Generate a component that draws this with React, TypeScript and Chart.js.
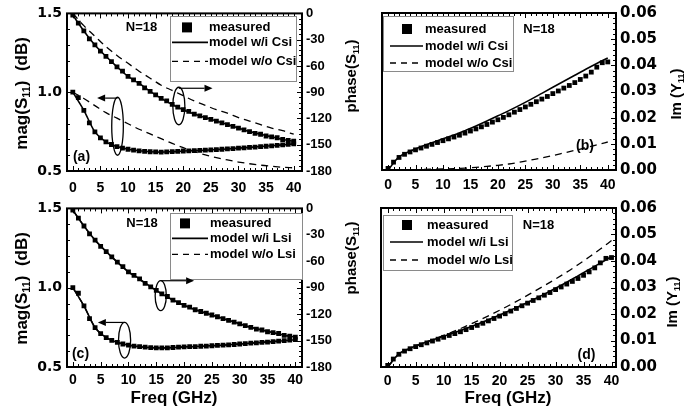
import React, { useEffect, useRef } from "react";
import { Chart, registerables } from "chart.js";

Chart.register(...registerables);

// ---------------- data ----------------
const FREQ = [0, 1, 2, 3, 4, 5, 6, 7, 8, 9, 10, 11, 12, 13, 14, 15, 16, 17, 18, 19, 20, 21, 22, 23, 24, 25, 26, 27, 28, 29, 30, 31, 32, 33, 34, 35, 36, 37, 38, 39, 40];
const FREQ_MODEL = [0, 2, 4, 6, 8, 10, 12, 14, 16, 18, 20, 22, 24, 26, 28, 30, 32, 34, 36, 38, 40];

const MAG_MEASURED = [1.000, 0.965, 0.885, 0.805, 0.748, 0.710, 0.685, 0.668, 0.655, 0.645, 0.638, 0.632, 0.628, 0.625, 0.622, 0.621, 0.620, 0.621, 0.623, 0.625, 0.627, 0.628, 0.629, 0.631, 0.632, 0.634, 0.636, 0.638, 0.640, 0.642, 0.645, 0.647, 0.650, 0.652, 0.655, 0.657, 0.660, 0.663, 0.666, 0.669, 0.672];
const PHASE_MEASURED = [-2, -11, -20, -29, -36, -43, -49, -55, -61, -66, -72, -76, -80, -85, -89, -93, -97, -100, -104, -107, -110, -112, -115, -117, -119, -121, -123, -125, -127, -129, -131, -133, -135, -137, -138, -140, -141, -142, -144, -145, -146];

const MAG_MODEL_CSI = [1.000, 0.885, 0.748, 0.685, 0.655, 0.638, 0.628, 0.622, 0.620, 0.623, 0.627, 0.629, 0.632, 0.636, 0.640, 0.645, 0.650, 0.655, 0.660, 0.666, 0.672];
const PHASE_MODEL_CSI = [-2, -20, -36, -49, -61, -72, -80, -89, -97, -104, -110, -115, -119, -123, -127, -131, -135, -138, -141, -144, -146];
const MAG_NO_CSI = [1.000, 0.960, 0.915, 0.870, 0.835, 0.800, 0.765, 0.735, 0.705, 0.675, 0.648, 0.623, 0.602, 0.585, 0.570, 0.557, 0.546, 0.537, 0.530, 0.524, 0.520];
const PHASE_NO_CSI = [0, -14, -26, -38, -48, -57, -66, -74, -82, -88, -94, -100, -105, -110, -114, -119, -123, -127, -131, -134, -138];

const MAG_MODEL_LSI = [1.000, 0.885, 0.748, 0.685, 0.655, 0.638, 0.628, 0.622, 0.620, 0.623, 0.627, 0.629, 0.632, 0.636, 0.640, 0.645, 0.650, 0.655, 0.660, 0.666, 0.672];
const PHASE_MODEL_LSI = [-2, -20, -36, -49, -61, -72, -80, -89, -97, -104, -110, -115, -119, -123, -127, -131, -135, -138, -141, -144, -146];
const MAG_NO_LSI = [1.000, 0.884, 0.749, 0.686, 0.655, 0.638, 0.628, 0.622, 0.621, 0.623, 0.627, 0.629, 0.632, 0.636, 0.640, 0.645, 0.650, 0.655, 0.661, 0.666, 0.672];
const PHASE_NO_LSI = [-2, -20, -36, -49, -61, -72, -81, -89, -97, -104, -110, -115, -119, -123, -127, -131, -135, -138, -141, -144, -146];

const IM_MEASURED = [0.0006, 0.0030, 0.0048, 0.0060, 0.0069, 0.0077, 0.0084, 0.0091, 0.0098, 0.0105, 0.0112, 0.0119, 0.0126, 0.0133, 0.0141, 0.0149, 0.0157, 0.0165, 0.0174, 0.0183, 0.0192, 0.0201, 0.0211, 0.0221, 0.0231, 0.0241, 0.0251, 0.0261, 0.0271, 0.0281, 0.0292, 0.0302, 0.0313, 0.0323, 0.0334, 0.0346, 0.0359, 0.0374, 0.0393, 0.0410, 0.0413];
const IM_MODEL_CSI = [0.0000, 0.0050, 0.0072, 0.0089, 0.0104, 0.0119, 0.0134, 0.0150, 0.0168, 0.0187, 0.0207, 0.0227, 0.0248, 0.0270, 0.0293, 0.0316, 0.0339, 0.0362, 0.0385, 0.0407, 0.0428];
const IM_NO_CSI = [0.0000, 0.0001, 0.0001, 0.0002, 0.0003, 0.0004, 0.0005, 0.0007, 0.0010, 0.0014, 0.0018, 0.0023, 0.0030, 0.0038, 0.0046, 0.0055, 0.0065, 0.0075, 0.0085, 0.0096, 0.0107];
const IM_MODEL_LSI = [0.0000, 0.0050, 0.0071, 0.0088, 0.0102, 0.0116, 0.0130, 0.0145, 0.0161, 0.0178, 0.0196, 0.0215, 0.0234, 0.0254, 0.0275, 0.0297, 0.0320, 0.0344, 0.0368, 0.0392, 0.0417];
const IM_NO_LSI = [0.0000, 0.0048, 0.0069, 0.0087, 0.0103, 0.0119, 0.0136, 0.0154, 0.0173, 0.0193, 0.0214, 0.0236, 0.0259, 0.0283, 0.0307, 0.0332, 0.0358, 0.0386, 0.0415, 0.0445, 0.0477];

const FREQ_TICKS = [0, 5, 10, 15, 20, 25, 30, 35, 40];
const MAG_TICKS = [0.5, 1.0, 1.5];
const PHASE_TICKS = [0, -30, -60, -90, -120, -150, -180];
const IM_TICKS = [0, 0.01, 0.02, 0.03, 0.04, 0.05, 0.06];

const LEGEND_CSI = ["measured", "model w/i Csi", "model w/o Csi"];
const LEGEND_LSI = ["measured", "model w/i Lsi", "model w/o Lsi"];
const N_LABEL = "N=18";
const X_TITLE = "Freq (GHz)";
type Part = [string, boolean];
const MAG_TITLE: Part[] = [["mag(S", false], ["11", true], [")  (dB)", false]];
const PHASE_TITLE: Part[] = [["phase(S", false], ["11", true], [")", false]];
const IM_TITLE: Part[] = [["Im (Y", false], ["11", true], [")", false]];

// ---------------- helpers ----------------
const SANS = '"Liberation Sans", Arial, sans-serif';
const WIDE = '"DejaVu Sans", sans-serif';

const pts = (xs: number[], ys: number[]) => xs.map((x, i) => ({ x, y: ys[i] }));

function measured(ys: number[], axis: string) {
  return {
    label: "measured", data: pts(FREQ, ys), yAxisID: axis, showLine: false,
    pointStyle: "rect", pointRadius: 3.4, pointBackgroundColor: "#000", pointBorderColor: "#000",
    pointBorderWidth: 0, borderColor: "#000", backgroundColor: "#000",
  };
}
function model(ys: number[], axis: string, dashed: boolean) {
  return {
    label: dashed ? "w/o" : "w/i", data: pts(FREQ_MODEL, ys), yAxisID: axis, showLine: true, pointRadius: 0,
    borderColor: "#000", borderWidth: dashed ? 1.3 : 1.6, borderDash: dashed ? [7, 5] : [],
    cubicInterpolationMode: "monotone", fill: false,
  };
}

function tickSet(majors: number[], div: number) {
  const s = [...majors].sort((a, b) => a - b);
  const out: { v: number; major: boolean }[] = [];
  s.forEach((v, i) => {
    out.push({ v, major: true });
    if (i < s.length - 1) {
      const step = (s[i + 1] - v) / div;
      for (let k = 1; k < div; k++) out.push({ v: v + k * step, major: false });
    }
  });
  return out;
}

function drawRich(ctx: CanvasRenderingContext2D, parts: Part[], cx: number, cy: number, size: number, rotated: boolean) {
  const sub = Math.round(size * 0.62);
  let w = 0;
  parts.forEach(([t, s]) => { ctx.font = `bold ${s ? sub : size}px ${SANS}`; w += ctx.measureText(t).width; });
  ctx.save();
  ctx.translate(cx, cy);
  if (rotated) ctx.rotate(-Math.PI / 2);
  ctx.textBaseline = "middle";
  ctx.textAlign = "left";
  ctx.fillStyle = "#000";
  let x = -w / 2;
  parts.forEach(([t, s]) => {
    ctx.font = `bold ${s ? sub : size}px ${SANS}`;
    ctx.fillText(t, x, s ? size * 0.3 : 0);
    x += ctx.measureText(t).width;
  });
  ctx.restore();
}

function arrow(ctx: CanvasRenderingContext2D, x1: number, y1: number, x2: number, y2: number) {
  const ang = Math.atan2(y2 - y1, x2 - x1);
  const L = 8, H = 3.5;
  ctx.beginPath();
  ctx.moveTo(x1, y1);
  ctx.lineTo(x2 - L * Math.cos(ang), y2 - L * Math.sin(ang));
  ctx.stroke();
  ctx.beginPath();
  ctx.moveTo(x2, y2);
  ctx.lineTo(x2 - L * Math.cos(ang) - H * Math.sin(ang), y2 - L * Math.sin(ang) + H * Math.cos(ang));
  ctx.lineTo(x2 - L * Math.cos(ang) + H * Math.sin(ang), y2 - L * Math.sin(ang) - H * Math.cos(ang));
  ctx.closePath();
  ctx.fill();
}

// ---------------- panels ----------------
const PANELS: any[] = [
  {
    key: "a", x: 0, y: 0, w: 340, h: 200, area: { l: 67, t: 11, r: 302, b: 171 }, xMin: -1.05, xMax: 41.5, xPad: 9, kind: "mag",
    datasets: () => [measured(MAG_MEASURED, "y"), measured(PHASE_MEASURED, "y2"), model(MAG_MODEL_CSI, "y", false), model(PHASE_MODEL_CSI, "y2", false), model(MAG_NO_CSI, "y", true), model(PHASE_NO_CSI, "y2", true)],
    legend: { labels: LEGEND_CSI, box: [103, 3, 126, 65], marker: 120, line: [105, 141], text: 142, rows: [14, 29, 48] },
    n: [74.5, 14], letter: "(a)", letterPos: [14.5, 144],
    leftTitle: { parts: MAG_TITLE, dx: -45, dy: 80, size: 17 },
    ellipses: [{ x: 8.1, y: 0.784, rx: 1.05, ry: 0.184 }, { x: 19.2, y: 0.9125, rx: 1.09, ry: 0.119 }],
    arrows: [{ x1: 8.1, y1: 0.9625, x2: 4.4, y2: 0.9625 }, { x1: 19.2, y1: 1.025, x2: 25.3, y2: 1.025 }],
  },
  {
    key: "b", x: 340, y: 0, w: 352, h: 200, area: { l: 42, t: 12, r: 276, b: 170 }, xMin: -1.1, xMax: 41.5, xPad: 7, kind: "im",
    datasets: () => [measured(IM_MEASURED, "y"), model(IM_MODEL_CSI, "y", false), model(IM_NO_CSI, "y", true)],
    legend: { labels: LEGEND_CSI, box: [1, 3, 130, 55], marker: 25, line: [8, 41], text: 43, rows: [16, 33, 50] },
    n: [157, 16], letter: "(b)", letterPos: [203, 133],
    leftTitle: { parts: PHASE_TITLE, dx: -30, dy: 63, size: 15 },
    rightTitle: { parts: IM_TITLE, dx: 61, dy: 81, size: 15 },
  },
  {
    key: "c", x: 0, y: 195, w: 340, h: 218, area: { l: 67, t: 12, r: 302, b: 172 }, xMin: -1.05, xMax: 41.2, xPad: 5, kind: "mag",
    datasets: () => [measured(MAG_MEASURED, "y"), measured(PHASE_MEASURED, "y2"), model(MAG_MODEL_LSI, "y", false), model(PHASE_MODEL_LSI, "y2", false), model(MAG_NO_LSI, "y", true), model(PHASE_NO_LSI, "y2", true)],
    legend: { labels: LEGEND_LSI, box: [103, 5, 132, 66], marker: 118, line: [105, 141], text: 143, rows: [15, 30, 46] },
    n: [75, 15], letter: "(c)", letterPos: [13.5, 146],
    leftTitle: { parts: MAG_TITLE, dx: -45, dy: 80, size: 17 },
    xTitle: { dx: 107, dy: 31 },
    ellipses: [{ x: 9.3, y: 0.669, rx: 1.09, ry: 0.1125 }, { x: 15.8, y: 0.95, rx: 1.0, ry: 0.094 }],
    arrows: [{ x1: 9.3, y1: 0.781, x2: 4.5, y2: 0.781 }, { x1: 15.8, y1: 1.044, x2: 21.8, y2: 1.044 }],
  },
  {
    key: "d", x: 340, y: 195, w: 352, h: 218, area: { l: 41, t: 11, r: 276, b: 172 }, xMin: -1.2, xMax: 40.8, xPad: 6, kind: "im",
    datasets: () => [measured(IM_MEASURED, "y"), model(IM_MODEL_LSI, "y", false), model(IM_NO_LSI, "y", true)],
    legend: { labels: LEGEND_LSI, box: [2, 7, 129, 55], marker: 26, line: [9, 42], text: 46, rows: [17, 34, 52] },
    n: [157.5, 17], letter: "(d)", letterPos: [205.5, 147],
    leftTitle: { parts: PHASE_TITLE, dx: -29, dy: 50, size: 15 },
    rightTitle: { parts: IM_TITLE, dx: 57, dy: 94, size: 15 },
    xTitle: { dx: 127, dy: 31 },
  },
];

function decor(p: any) {
  return {
    id: "decor",
    afterDraw(chart: any) {
      const ctx: CanvasRenderingContext2D = chart.ctx;
      const a = chart.chartArea;
      const sx = chart.scales.x;
      ctx.save();
      ctx.strokeStyle = "#000";
      ctx.fillStyle = "#000";
      ctx.lineWidth = 1;
      const seg = (x1: number, y1: number, x2: number, y2: number) => {
        ctx.beginPath(); ctx.moveTo(x1, y1); ctx.lineTo(x2, y2); ctx.stroke();
      };
      // x ticks top & bottom
      tickSet(FREQ_TICKS, 5).forEach((t) => {
        const px = Math.round(sx.getPixelForValue(t.v)) + 0.5;
        const L = t.major ? 5 : 3;
        seg(px, a.bottom, px, a.bottom - L);
        seg(px, a.top, px, a.top + L);
      });
      if (p.kind === "mag") {
        const sl = chart.scales.y;
        tickSet(MAG_TICKS, 5).forEach((t) => {
          const py = Math.round(sl.getPixelForValue(t.v)) + 0.5;
          seg(a.left, py, a.left + (t.major ? 5 : 3), py);
        });
      }
      const sr = p.kind === "mag" ? chart.scales.y2 : chart.scales.y;
      tickSet(p.kind === "mag" ? PHASE_TICKS : IM_TICKS, 5).forEach((t) => {
        const py = Math.round(sr.getPixelForValue(t.v)) + 0.5;
        seg(a.right, py, a.right - (t.major ? 5 : 3), py);
      });
      // frame
      ctx.lineWidth = 2;
      ctx.strokeRect(a.left, a.top, a.right - a.left, a.bottom - a.top);

      // legend
      const lg = p.legend;
      const bx = Math.round(a.left + lg.box[0]) + 0.5, by = Math.round(a.top + lg.box[1]) + 0.5;
      ctx.fillStyle = "#fff";
      ctx.fillRect(bx, by, lg.box[2], lg.box[3]);
      ctx.strokeStyle = "#8a8a8a";
      ctx.lineWidth = 1;
      ctx.strokeRect(bx, by, lg.box[2], lg.box[3]);
      ctx.fillStyle = "#000";
      ctx.strokeStyle = "#000";
      ctx.fillRect(a.left + lg.marker - 5, a.top + lg.rows[0] - 5, 10, 10);
      ctx.lineWidth = 1.6;
      seg(a.left + lg.line[0], a.top + lg.rows[1], a.left + lg.line[1], a.top + lg.rows[1]);
      ctx.lineWidth = 1.3;
      ctx.setLineDash([6, 5]);
      seg(a.left + lg.line[0], a.top + lg.rows[2], a.left + lg.line[1], a.top + lg.rows[2]);
      ctx.setLineDash([]);
      ctx.font = `bold 13px ${SANS}`;
      ctx.textBaseline = "middle";
      ctx.textAlign = "left";
      lg.labels.forEach((t: string, i: number) => ctx.fillText(t, a.left + lg.text, a.top + lg.rows[i]));

      // N=18 and panel letter
      ctx.textAlign = "center";
      ctx.font = `bold 13px ${SANS}`;
      ctx.fillText(N_LABEL, a.left + p.n[0], a.top + p.n[1]);
      ctx.font = `bold 14px ${SANS}`;
      ctx.fillText(p.letter, a.left + p.letterPos[0], a.top + p.letterPos[1]);

      // titles
      if (p.leftTitle) drawRich(ctx, p.leftTitle.parts, a.left + p.leftTitle.dx, a.top + p.leftTitle.dy, p.leftTitle.size, true);
      if (p.rightTitle) drawRich(ctx, p.rightTitle.parts, a.right + p.rightTitle.dx, a.top + p.rightTitle.dy, p.rightTitle.size, true);
      if (p.xTitle) drawRich(ctx, [[X_TITLE, false]], a.left + p.xTitle.dx, a.bottom + p.xTitle.dy, 17, false);

      // annotations (ellipses + arrows in data coordinates)
      if (p.kind === "mag") {
        const sl = chart.scales.y;
        ctx.lineWidth = 1.3;
        (p.ellipses || []).forEach((e: any) => {
          const cx = sx.getPixelForValue(e.x), cy = sl.getPixelForValue(e.y);
          const rx = Math.abs(sx.getPixelForValue(e.x + e.rx) - cx);
          const ry = Math.abs(sl.getPixelForValue(e.y + e.ry) - cy);
          ctx.beginPath();
          ctx.ellipse(cx, cy, rx, ry, 0, 0, Math.PI * 2);
          ctx.stroke();
        });
        ctx.lineWidth = 1.2;
        (p.arrows || []).forEach((r: any) => {
          arrow(ctx, sx.getPixelForValue(r.x1), sl.getPixelForValue(r.y1), sx.getPixelForValue(r.x2), sl.getPixelForValue(r.y2));
        });
      }
      ctx.restore();
    },
  };
}

function buildConfig(p: any) {
  const noGrid = { display: false, drawTicks: false };
  const noBorder = { display: false };
  const scales: any = {
    x: {
      type: "linear", min: p.xMin, max: p.xMax,
      afterBuildTicks: (s: any) => { s.ticks = FREQ_TICKS.map((v) => ({ value: v })); },
      afterFit: (s: any) => { s.height = p.h - p.area.b; },
      grid: noGrid, border: noBorder,
      ticks: { autoSkip: false, maxRotation: 0, padding: p.xPad, color: "#000", font: { family: SANS, size: 14, weight: "bold" }, callback: (v: any) => String(v) },
    },
  };
  if (p.kind === "mag") {
    scales.y = {
      type: "linear", position: "left", min: 0.5, max: 1.5,
      afterBuildTicks: (s: any) => { s.ticks = MAG_TICKS.map((v) => ({ value: v })); },
      afterFit: (s: any) => { s.width = p.area.l; },
      grid: noGrid, border: noBorder,
      ticks: { padding: 5, color: "#000", font: { family: WIDE, size: 14, weight: "bold" }, callback: (v: any) => Number(v).toFixed(1) },
    };
    scales.y2 = {
      type: "linear", position: "right", min: -180, max: 0,
      afterBuildTicks: (s: any) => { s.ticks = PHASE_TICKS.map((v) => ({ value: v })); },
      afterFit: (s: any) => { s.width = p.w - p.area.r; },
      grid: noGrid, border: noBorder,
      ticks: { padding: 4, color: "#000", font: { family: SANS, size: 13, weight: "bold" }, callback: (v: any) => String(v) },
    };
  } else {
    scales.y = {
      type: "linear", position: "right", min: 0, max: 0.06,
      afterBuildTicks: (s: any) => { s.ticks = IM_TICKS.map((v) => ({ value: v })); },
      afterFit: (s: any) => { s.width = p.w - p.area.r; },
      grid: noGrid, border: noBorder,
      ticks: { padding: 4, color: "#000", font: { family: WIDE, size: 15, weight: "bold" }, callback: (v: any) => Number(v).toFixed(2) },
    };
  }
  return {
    type: "line",
    data: { datasets: p.datasets() },
    options: {
      responsive: false, animation: false, events: [],
      layout: { padding: { top: p.area.t, left: p.kind === "im" ? p.area.l : 0, right: 0, bottom: 0 } },
      plugins: { legend: { display: false }, tooltip: { enabled: false } },
      scales,
    },
    plugins: [decor(p)],
  } as any;
}

function Panel({ p }: { p: any }) {
  const ref = useRef<HTMLCanvasElement>(null);
  useEffect(() => {
    const chart = new Chart(ref.current as HTMLCanvasElement, buildConfig(p));
    return () => chart.destroy();
  }, [p]);
  return (
    <canvas
      ref={ref}
      width={p.w}
      height={p.h}
      style={{ position: "absolute", left: p.x, top: p.y, width: p.w, height: p.h }}
    />
  );
}

export default function App() {
  return (
    <div style={{ position: "fixed", left: 0, top: 0, width: 692, height: 413, background: "#fff", overflow: "hidden" }}>
      {PANELS.map((p) => (
        <Panel key={p.key} p={p} />
      ))}
    </div>
  );
}
